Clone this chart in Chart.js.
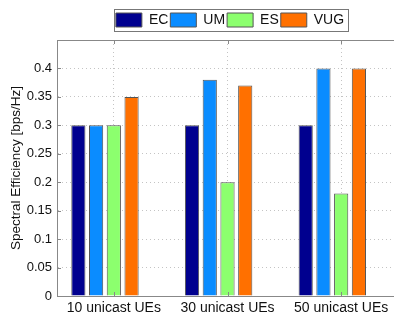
<!DOCTYPE html>
<html>
<head>
<meta charset="utf-8">
<script src="https://cdn.jsdelivr.net/npm/chart.js@4"></script>
<style>
  html, body { margin: 0; padding: 0; background: #fff; overflow: hidden; }
  #wrap { width: 404px; height: 314px; }
</style>
</head>
<body>
<div id="wrap"><canvas id="cc"></canvas></div>
<script>
// data
const categories = ["10 unicast UEs", "30 unicast UEs", "50 unicast UEs"];
const ec  = [0.30, 0.30, 0.30];
const um  = [0.30, 0.38, 0.40];
const es  = [0.30, 0.20, 0.18];
const vug = [0.35, 0.37, 0.40];
const spare = [0, 0, 0]; // empty fifth slot of the MATLAB group
const yTicks = [0, 0.05, 0.1, 0.15, 0.2, 0.25, 0.3, 0.35, 0.4];
const yTickLabels = ["0", "0.05", "0.1", "0.15", "0.2", "0.25", "0.3", "0.35", "0.4"];
const yMax = 0.45;

const FONT = "'Liberation Sans', Arial, sans-serif";
Chart.defaults.font.family = FONT;
Chart.defaults.color = "#222";

// move the legend to where the figure has it (runs after the legend plugin)
const legendPos = {
	id: "legendPos",
	afterUpdate(chart) {
		const lg = chart.legend;
		const boxes = lg.legendHitBoxes;
		if (!boxes || !boxes.length) return;
		const first = boxes[0];
		const last = boxes[boxes.length - 1];
		const dx = Math.round(229.5 - (first.left + last.left + last.width) / 2);
		const dy = Math.round(13 - first.top);
		lg.left += dx; lg.right += dx;
		lg.top += dy; lg.bottom += dy;
		for (const b of boxes) { b.left += dx; b.top += dy; }
	}
};

// frame: top border, inner tick marks, legend box
const framePlugin = {
	id: "frame",
	afterDraw(chart) {
		const ctx = chart.ctx;
		const a = chart.chartArea;
		const x = chart.scales.x;
		const y = chart.scales.y;
		ctx.save();
		ctx.strokeStyle = "#888";
		ctx.lineWidth = 1;
		ctx.beginPath();
		ctx.moveTo(a.left, a.top + 0.5);
		ctx.lineTo(a.right, a.top + 0.5);
		for (let i = 0; i < yTicks.length; i++) {
			const py = Math.round(y.getPixelForValue(yTicks[i])) + 0.5;
			ctx.moveTo(a.left, py);
			ctx.lineTo(a.left + 4, py);
		}
		for (let i = 0; i < categories.length; i++) {
			const px = Math.round(x.getPixelForValue(i)) + 0.5;
			ctx.moveTo(px, a.top);
			ctx.lineTo(px, a.top + 4);
			ctx.moveTo(px, a.bottom);
			ctx.lineTo(px, a.bottom - 4);
		}
		ctx.stroke();

		// legend border
		const boxes = chart.legend.legendHitBoxes;
		if (boxes && boxes.length) {
			const first = boxes[0];
			const last = boxes[boxes.length - 1];
			const l = Math.round(first.left) - 1.5;
			const r = Math.round(last.left + last.width) + 4.5;
			const t = Math.round(first.top) - 3.5;
			const b = Math.round(first.top + first.height) + 4.5;
			ctx.strokeStyle = "#777";
			ctx.strokeRect(l, t, r - l, b - t);
		}
		ctx.restore();
	}
};

function ds(label, data, color) {
	return {
		label: label,
		data: data,
		backgroundColor: color,
		borderColor: "#555",
		borderWidth: 1,
		barPercentage: 0.8,
		categoryPercentage: 0.78
	};
}

let chartId = document.getElementById("cc");
chart = new Chart(chartId, {
	type: "bar",
	data: {
		labels: categories,
		datasets: [
			ds("EC", ec, "#00008f"),
			ds("UM", um, "#0a8cff"),
			ds("ES", es, "#8cff6e"),
			ds("VUG", vug, "#ff7000"),
			{ label: "", data: spare, backgroundColor: "rgba(0,0,0,0)", borderWidth: 0,
			  barPercentage: 0.8, categoryPercentage: 0.78 }
		]
	},
	options: {
		responsive: true,
		maintainAspectRatio: false,
		animation: false,
		layout: { padding: { top: 14, right: 6, left: 0, bottom: 0 } },
		plugins: {
			legend: {
				display: true,
				position: "top",
				labels: {
					boxWidth: 26,
					boxHeight: 14,
					padding: 2,
					color: "#111",
					font: { size: 14 },
					filter: (item) => item.datasetIndex < 4
				}
			},
			tooltip: { enabled: false }
		},
		scales: {
			x: {
				offset: true,
				grid: {
					offset: false,
					drawTicks: false,
					color: "#c4c4c4",
					lineWidth: 1
				},
				border: { display: true, color: "#888", dash: [1, 3] },
				ticks: { padding: 4, color: "#111", font: { size: 14 } },
				afterFit: (s) => { s.height = 18; }
			},
			y: {
				min: 0,
				max: yMax,
				afterBuildTicks: (s) => {
					s.ticks = yTicks.concat([yMax]).map(v => ({ value: v }));
				},
				grid: {
					drawTicks: false,
					color: "#c4c4c4",
					lineWidth: 1
				},
				border: { display: true, color: "#888", dash: [1, 3] },
				ticks: {
					padding: 5,
					color: "#111",
					font: { size: 13 },
					callback: (v, i) => (i < yTickLabels.length ? yTickLabels[i] : "")
				},
				title: {
					display: true,
					text: "Spectral Efficiency [bps/Hz]",
					color: "#111",
					font: { size: 13.5 },
					padding: { top: 8, bottom: 0 }
				},
				afterFit: (s) => { s.width = 57; }
			}
		}
	},
	plugins: [legendPos, framePlugin]
});
</script>
</body>
</html>
